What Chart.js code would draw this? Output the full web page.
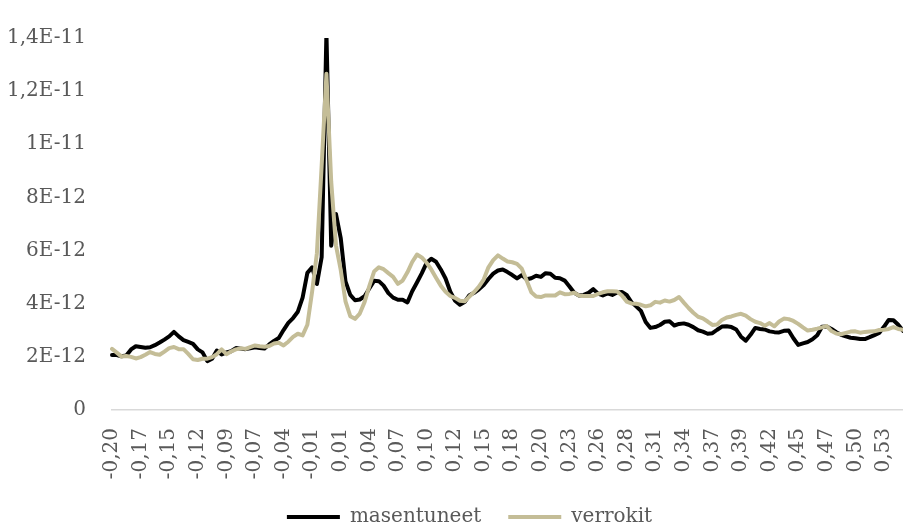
<!DOCTYPE html>
<html>
<head>
<meta charset="utf-8">
<script src="https://cdn.jsdelivr.net/npm/chart.js@4.4.1/dist/chart.umd.min.js"></script>
<style>
  html, body { margin: 0; padding: 0; background: #ffffff; }
  #wrap { width: 903px; height: 529px; position: relative; }
</style>
</head>
<body>
<div id="wrap"><canvas id="chart"></canvas></div>
<script>
// Category tick labels (one label every POINTS_PER_TICK samples)
const xTickLabels = ['-0,20', '-0,17', '-0,15', '-0,12', '-0,09', '-0,07', '-0,04', '-0,01',
  '0,01', '0,04', '0,07', '0,10', '0,12', '0,15', '0,18', '0,20', '0,23', '0,26', '0,28',
  '0,31', '0,34', '0,37', '0,39', '0,42', '0,45', '0,47', '0,50', '0,53'];
const POINTS_PER_TICK = 6;

// Value axis: values are in units of 1E-12
const yTickValues = [0, 2, 4, 6, 8, 10, 12, 14];
const yTickLabels = ['0', '2E-12', '4E-12', '6E-12', '8E-12', '1E-11', '1,2E-11', '1,4E-11'];

// Series (×1E-12)
const masentuneet = [
  2.07, 2.07, 2.02, 2.05, 2.28, 2.40, 2.37, 2.34, 2.36, 2.44,
  2.54, 2.65, 2.77, 2.94, 2.77, 2.63, 2.56, 2.49, 2.28, 2.17,
  1.84, 1.93, 2.24, 2.09, 2.17, 2.21, 2.33, 2.31, 2.29, 2.32,
  2.36, 2.33, 2.31, 2.47, 2.60, 2.71, 3.01, 3.28, 3.46, 3.70,
  4.23, 5.16, 5.37, 4.74, 5.75, 14.2, 6.18, 7.38, 6.47, 4.84,
  4.33, 4.13, 4.16, 4.28, 4.57, 4.86, 4.85, 4.68, 4.40, 4.23,
  4.15, 4.15, 4.05, 4.47, 4.80, 5.14, 5.53, 5.69, 5.58, 5.29,
  4.95, 4.45, 4.11, 3.96, 4.06, 4.32, 4.41, 4.54, 4.70, 4.93,
  5.13, 5.25, 5.29, 5.19, 5.08, 4.95, 5.08, 4.92, 4.96, 5.05,
  5.01, 5.15, 5.13, 4.98, 4.96, 4.87, 4.65, 4.41, 4.31, 4.33,
  4.41, 4.55, 4.38, 4.31, 4.39, 4.33, 4.42, 4.44, 4.33, 4.06,
  3.90, 3.73, 3.31, 3.09, 3.12, 3.20, 3.32, 3.34, 3.18, 3.24,
  3.26, 3.21, 3.12, 3.00, 2.95, 2.87, 2.89, 3.02, 3.14, 3.15,
  3.12, 3.03, 2.76, 2.61, 2.83, 3.09, 3.05, 3.03, 2.96, 2.93,
  2.92, 2.98, 2.99, 2.70, 2.45, 2.51, 2.56, 2.66, 2.81, 3.13,
  3.14, 3.05, 2.93, 2.83, 2.77, 2.72, 2.70, 2.67, 2.67, 2.74,
  2.82, 2.90, 3.13, 3.39, 3.38, 3.21, 2.98
];
const verrokit = [
  2.30, 2.16, 2.01, 2.03, 2.00, 1.94, 1.99, 2.08, 2.18, 2.11,
  2.08, 2.20, 2.33, 2.37, 2.29, 2.29, 2.11, 1.91, 1.88, 1.93,
  1.93, 1.99, 2.10, 2.28, 2.10, 2.20, 2.28, 2.32, 2.30, 2.37,
  2.43, 2.40, 2.38, 2.41, 2.50, 2.53, 2.43, 2.57, 2.75, 2.87,
  2.81, 3.21, 4.46, 5.90, 9.20, 12.65, 8.60, 6.20, 5.27, 4.09,
  3.53, 3.43, 3.63, 4.06, 4.66, 5.21, 5.37, 5.30, 5.15, 5.01,
  4.75, 4.87, 5.18, 5.57, 5.85, 5.74, 5.55, 5.29, 4.98, 4.68,
  4.45, 4.29, 4.22, 4.11, 4.09, 4.27, 4.44, 4.64, 4.91, 5.37,
  5.64, 5.82, 5.70, 5.59, 5.56, 5.50, 5.32, 4.88, 4.43, 4.27,
  4.25, 4.31, 4.31, 4.31, 4.43, 4.36, 4.37, 4.41, 4.31, 4.29,
  4.29, 4.29, 4.37, 4.43, 4.47, 4.47, 4.46, 4.31, 4.08, 4.01,
  4.00, 3.96, 3.90, 3.94, 4.07, 4.04, 4.12, 4.08, 4.14, 4.25,
  4.04, 3.84, 3.66, 3.51, 3.45, 3.33, 3.20, 3.22, 3.39, 3.48,
  3.52, 3.58, 3.62, 3.55, 3.42, 3.32, 3.27, 3.17, 3.27, 3.15,
  3.33, 3.44, 3.42, 3.35, 3.24, 3.11, 2.99, 3.02, 3.06, 3.11,
  3.16, 2.97, 2.88, 2.85, 2.90, 2.95, 2.96, 2.91, 2.94, 2.95,
  2.96, 3.01, 3.02, 3.05, 3.12, 3.05, 3.02
];

const TEXT = '#595959';
const BLACK = '#000000';
const TAN = '#C4BD97';

// One category per sample; only every POINTS_PER_TICK-th carries a tick label
const categories = masentuneet.map((_, i) =>
  i % POINTS_PER_TICK === 0 ? (xTickLabels[i / POINTS_PER_TICK] ?? '') : '');

Chart.defaults.font.family = '"DejaVu Serif", serif';
Chart.defaults.color = TEXT;

// Nudges the legend block to sit under the plot like the original layout
const legendOffset = {
  id: 'legendOffset',
  afterLayout(chart) {
    const lg = chart.legend;
    if (!lg) return;
    const dx = 18, dy = -2;
    lg.left += dx; lg.right += dx;
    lg.top += dy; lg.bottom += dy;
  }
};

new Chart(document.getElementById('chart'), {
  type: 'line',
  data: {
    labels: categories,
    datasets: [
      {
        label: 'masentuneet',
        data: masentuneet,
        borderColor: BLACK,
        backgroundColor: BLACK,
        borderWidth: 4,
        pointRadius: 0,
        tension: 0,
        borderJoinStyle: 'round',
        borderCapStyle: 'round',
        order: 1
      },
      {
        label: 'verrokit',
        data: verrokit,
        borderColor: TAN,
        backgroundColor: TAN,
        borderWidth: 4,
        pointRadius: 0,
        tension: 0,
        borderJoinStyle: 'round',
        borderCapStyle: 'round',
        order: 0
      }
    ]
  },
  options: {
    responsive: true,
    maintainAspectRatio: false,
    animation: false,
    devicePixelRatio: 1,
    layout: { padding: { top: 25, left: 0, right: 0, bottom: 0 } },
    plugins: {
      tooltip: { enabled: false },
      legend: {
        position: 'bottom',
        maxHeight: 47,
        labels: {
          boxWidth: 53,
          boxHeight: 4,
          padding: 27,
          color: TEXT,
          font: { size: 20 },
          generateLabels(chart) {
            const items = Chart.defaults.plugins.legend.labels.generateLabels(chart);
            items.forEach(it => { it.fillStyle = it.strokeStyle; it.lineWidth = 0; });
            return items.sort((a, b) => a.datasetIndex - b.datasetIndex);
          }
        }
      }
    },
    scales: {
      x: {
        type: 'category',
        offset: false,
        grid: { display: false, drawTicks: false },
        border: { display: true, color: '#D9D9D9', width: 1.5 },
        ticks: {
          autoSkip: false,
          maxRotation: 90,
          minRotation: 90,
          padding: 18,
          color: TEXT,
          font: { size: 20 }
        },
        afterFit(scale) {
          scale.height = 72;
          scale.paddingLeft = 0;
          scale.paddingRight = 0;
        }
      },
      y: {
        min: yTickValues[0],
        max: yTickValues[yTickValues.length - 1],
        grid: { display: false, drawTicks: false },
        border: { display: false },
        ticks: {
          stepSize: yTickValues[1] - yTickValues[0],
          padding: 26,
          color: TEXT,
          font: { size: 20 },
          callback(value) {
            const k = yTickValues.indexOf(value);
            return k >= 0 ? yTickLabels[k] : null;
          }
        },
        afterFit(scale) { scale.width = 112; }
      }
    }
  },
  plugins: [legendOffset]
});
</script>
</body>
</html>
